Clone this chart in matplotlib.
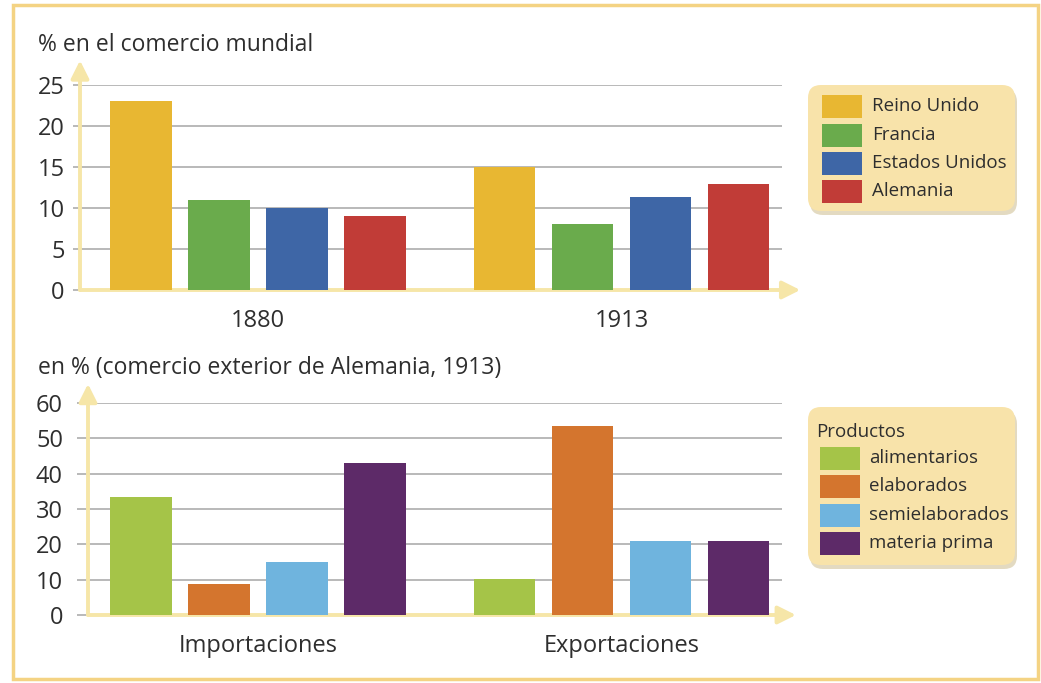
import matplotlib
matplotlib.use("Agg")
import matplotlib.pyplot as plt
import numpy as np
from matplotlib.patches import FancyBboxPatch, Rectangle

plt.rcParams['font.family'] = ['Open Sans', 'DejaVu Sans']

# --- data ---
years = ["1880", "1913"]
countries = ["Reino Unido", "Francia", "Estados Unidos", "Alemania"]
trade_1880 = [23, 11, 10, 9]
trade_1913 = [15, 8, 11.4, 12.9]
country_colors = ["#e8b732", "#6aab4c", "#3e66a6", "#c13c37"]

flows = ["Importaciones", "Exportaciones"]
products = ["alimentarios", "elaborados", "semielaborados", "materia prima"]
imports_pct = [33.4, 8.9, 14.9, 43.1]
exports_pct = [10.1, 53.4, 21.0, 21.0]
product_colors = ["#a5c448", "#d4752e", "#6fb4de", "#5d2a68"]

W, H = 1041, 683
axis_col = "#f6e6a8"
grid_col = "#a6a6a6"
text_col = "#2e2e2e"
legend_bg = "#f8e3aa"

fig = plt.figure(figsize=(W / 100, H / 100), dpi=100)


def px_axes(l, r, top, bottom):
    return fig.add_axes([l / W, 1 - bottom / H, (r - l) / W, (bottom - top) / H])


# overlay for frame and legends (pixel coordinates)
ov = fig.add_axes([0, 0, 1, 1], zorder=-1)
ov.set_xlim(0, W)
ov.set_ylim(H, 0)
ov.axis("off")
ov.add_patch(Rectangle((13, 5), 1025, 674, fill=False, ec="#f4d383", lw=2.5))

group_x = np.array([0.0, 4.66])
offsets = np.arange(4)
bar_w = 0.79


def draw_panel(ax, series, colors, groups, yticks, tick_len, tick_pad, x_tip, y_tip, xl):
    ax.set_facecolor("none")
    for s in ax.spines.values():
        s.set_visible(False)
    ax.set_xlim(*xl)
    ax.set_ylim(yticks[0], yticks[-1])
    ax.set_yticks(yticks)
    ax.yaxis.grid(True, color=grid_col, lw=1.1)
    ax.set_axisbelow(True)
    ax.tick_params(axis="y", length=tick_len, width=1.1, color=grid_col,
                   labelsize=17, labelcolor=text_col, pad=tick_pad)
    for gi, vals in enumerate(series):
        ax.bar(group_x[gi] + offsets, vals, width=bar_w, color=colors, zorder=3)
    ax.set_xticks(group_x + 1.5)
    ax.set_xticklabels(groups)
    ax.tick_params(axis="x", length=0, labelsize=17, labelcolor=text_col, pad=14)
    arrow = dict(arrowstyle="-|>,head_length=0.9,head_width=0.45", color=axis_col,
                 lw=2.8, shrinkA=0, shrinkB=0, mutation_scale=12)
    ax.annotate("", xy=(x_tip, 0), xytext=(0, 0), xycoords="axes fraction",
                arrowprops=arrow, annotation_clip=False, zorder=2)
    ax.annotate("", xy=(0, y_tip), xytext=(0, 0), xycoords="axes fraction",
                arrowprops=arrow, annotation_clip=False, zorder=2)


ax1 = px_axes(80, 782, 85, 290)
draw_panel(ax1, [trade_1880, trade_1913], country_colors, years,
           [0, 5, 10, 15, 20, 25], 5, 6, 1.026, 1.12,
           ((80 - 141) / 78, (782 - 141) / 78))

ax2 = px_axes(88, 782, 403, 615)
draw_panel(ax2, [imports_pct, exports_pct], product_colors, flows,
           [0, 10, 20, 30, 40, 50, 60], 8, 10, 1.02, 1.09,
           ((88 - 141) / 78, (782 - 141) / 78))

fig.text(38 / W, 1 - 45 / H, "% en el comercio mundial", fontsize=16.5,
         color=text_col, va="center", ha="left")
fig.text(38 / W, 1 - 368 / H, "en % (comercio exterior de Alemania, 1913)",
         fontsize=16.5, color=text_col, va="center", ha="left")

leg_font = ["Liberation Sans Narrow", "Open Sans", "DejaVu Sans"]


def legend_box(top, bottom, swatch_x, text_x, rows_y, labels, colors, title=None, title_y=None):
    ov.add_patch(FancyBboxPatch((810, top + 4), 207, bottom - top, boxstyle="round,pad=0,rounding_size=13",
                                fc="#cdbd8e", ec="none", alpha=0.55))
    ov.add_patch(FancyBboxPatch((808, top), 207, bottom - top, boxstyle="round,pad=0,rounding_size=13",
                                fc=legend_bg, ec="none"))
    if title:
        ov.text(816, title_y, title, fontsize=13.5, family=leg_font, color=text_col,
                va="center", ha="left")
    for y, lab, c in zip(rows_y, labels, colors):
        ov.add_patch(Rectangle((swatch_x, y - 11.5), 40, 23, fc=c, ec="none"))
        ov.text(text_x, y, lab, fontsize=13.5, family=leg_font, color=text_col,
                va="center", ha="left")


legend_box(85, 211, 822, 872, [106, 135, 163, 191], countries, country_colors)
legend_box(407, 565, 820, 869, [458, 486, 515, 543], products, product_colors,
           title="Productos", title_y=432)

fig.savefig("out.png", dpi=100)
